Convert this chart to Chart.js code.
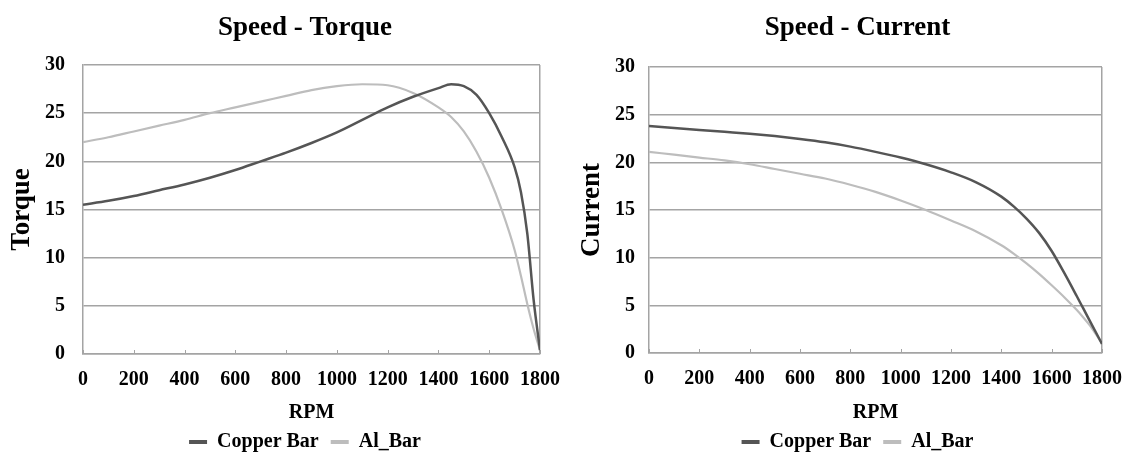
<!DOCTYPE html>
<html><head><meta charset="utf-8">
<script src="https://cdn.jsdelivr.net/npm/chart.js@4.4.0/dist/chart.umd.min.js"></script>
<style>
html,body{margin:0;padding:0;background:#fff;overflow:hidden;width:1129px;height:455px;position:relative;}
#w1{position:absolute;left:0;top:0;width:610px;height:462px;}
#w2{position:absolute;left:575px;top:0;width:565px;height:462px;}
</style></head><body>
<div id="w1"><canvas id="c1"></canvas></div>
<div id="w2"><canvas id="c2"></canvas></div>
<script>
// ---- data ----
const rpm = [0,100,200,300,400,500,600,700,800,900,1000,1100,1200,1300,1400,1450,1500,1550,1600,1650,1700,1725,1750,1775,1800];
const torqueCopper = [15.5,15.9,16.4,17.0,17.6,18.3,19.1,20.0,20.9,21.9,23.0,24.3,25.6,26.7,27.6,28.0,27.8,26.9,25.0,22.5,19.4,16.8,12.5,5.6,0.4];
const torqueAl     = [22.0,22.5,23.1,23.7,24.3,25.0,25.6,26.2,26.8,27.4,27.8,28.0,27.9,27.1,25.6,24.6,23.1,21.0,18.3,14.9,10.8,8.1,5.2,2.6,0.4];
const currentCopper = [23.8,23.6,23.4,23.2,23.0,22.75,22.45,22.1,21.65,21.1,20.5,19.8,18.95,17.9,16.4,15.35,14.1,12.6,10.7,8.4,5.95,4.7,3.45,2.2,0.95];
const currentAl     = [21.1,20.8,20.5,20.2,19.8,19.3,18.8,18.3,17.65,16.9,16.0,15.0,13.9,12.75,11.3,10.4,9.4,8.3,7.1,5.85,4.5,3.75,2.95,2.0,1.0];
const seriesNames = ['Copper Bar','Al_Bar'];
const titles = ['Speed - Torque','Speed - Current'];
const yTitles = ['Torque','Current'];
const xTitle = 'RPM';

// ---- style ----
const FONT = "'Liberation Serif','Times New Roman',serif";
const GRID = '#a4a4a4';
const C_COPPER = '#555555';
const C_AL = '#bdbdbd';
Chart.defaults.font.family = FONT;
Chart.defaults.font.weight = 'bold';
Chart.defaults.color = '#000';

const pts = (xs, ys) => xs.map((x, i) => ({x, y: ys[i]}));

const innerTicks = {
  id: 'innerTicks',
  afterDatasetsDraw(chart) {
    const xs = chart.scales.x, ys = chart.scales.y, ctx = chart.ctx;
    ctx.save();
    ctx.strokeStyle = GRID; ctx.lineWidth = 1;
    xs.ticks.forEach(t => {
      const px = Math.round(xs.getPixelForValue(t.value)) + 0.5;
      ctx.beginPath(); ctx.moveTo(px, ys.bottom); ctx.lineTo(px, ys.bottom - 4); ctx.stroke();
    });
    ctx.restore();
  }
};

function makeChart(id, title, yTitle, ysA, ysB, o) {
  return new Chart(document.getElementById(id), {
    type: 'line',
    data: {
      datasets: [
        {label: seriesNames[0], data: pts(rpm, ysA), borderColor: C_COPPER, backgroundColor: C_COPPER, borderWidth: 2.5, pointRadius: 0, cubicInterpolationMode: 'monotone', fill: false},
        {label: seriesNames[1], data: pts(rpm, ysB), borderColor: C_AL, backgroundColor: C_AL, borderWidth: 2.2, pointRadius: 0, cubicInterpolationMode: 'monotone', fill: false}
      ]
    },
    options: {
      responsive: true, maintainAspectRatio: false, animation: false,
      layout: {padding: 0},
      plugins: {
        tooltip: {enabled: false},
        title: {display: true, text: title, font: {size: 27, weight: 'bold', lineHeight: 1.2}, color: '#000', padding: {top: 11.8, bottom: o.titleBottom}},
        legend: {
          position: 'bottom',
          labels: {
            font: {size: 20, weight: 'bold'}, color: '#000', boxWidth: 18, boxHeight: 4, padding: 12,
            generateLabels(chart) {
              const items = Chart.defaults.plugins.legend.labels.generateLabels(chart);
              items.forEach(it => { it.lineWidth = 0; });
              return items;
            }
          }
        }
      },
      scales: {
        x: {
          type: 'linear', min: 0, max: 1800,
          ticks: {stepSize: 200, padding: 14, font: {size: 20, weight: 'bold'}, color: '#000', maxRotation: 0, autoSkip: false, callback: v => String(v)},
          grid: {drawTicks: false, lineWidth: 1.5, color: ctx => (ctx.tick && ctx.tick.value === 1800) ? GRID : 'rgba(0,0,0,0)'},
          border: {display: true, color: GRID, width: 1.5},
          title: {display: true, text: xTitle, font: {size: 20, weight: 'bold', lineHeight: 0.7}, color: '#000', padding: {top: 0, bottom: 0}},
          afterFit(s) { s.height = o.xHeight; }
        },
        y: {
          min: 0, max: 30,
          ticks: {stepSize: 5, padding: o.yTickPad, font: {size: 20, weight: 'bold'}, color: '#000'},
          grid: {drawTicks: false, lineWidth: 1.5, color: GRID},
          border: {display: true, color: GRID, width: 1.5},
          title: {display: true, text: yTitle, font: {size: 27, weight: 'bold', lineHeight: 1.2}, color: '#000', padding: {top: o.yTitlePad, bottom: 0}},
          afterFit(s) { s.width = o.yWidth; }
        },
        yRight: {
          position: 'right', display: true, min: 0, max: 30,
          ticks: {display: false}, grid: {display: false}, border: {display: false},
          afterFit(s) { s.width = o.rightSpace; }
        }
      }
    },
    plugins: [innerTicks]
  });
}

makeChart('c1', titles[0], yTitles[0], torqueCopper, torqueAl,
  {rightSpace: 70, titleBottom: 20.8, xHeight: 66, yWidth: 83, yTickPad: 18, yTitlePad: 5.8});
makeChart('c2', titles[1], yTitles[1], currentCopper, currentAl,
  {rightSpace: 38, titleBottom: 22.8, xHeight: 67, yWidth: 74, yTickPad: 14, yTitlePad: 0.8});
</script>
</body></html>
